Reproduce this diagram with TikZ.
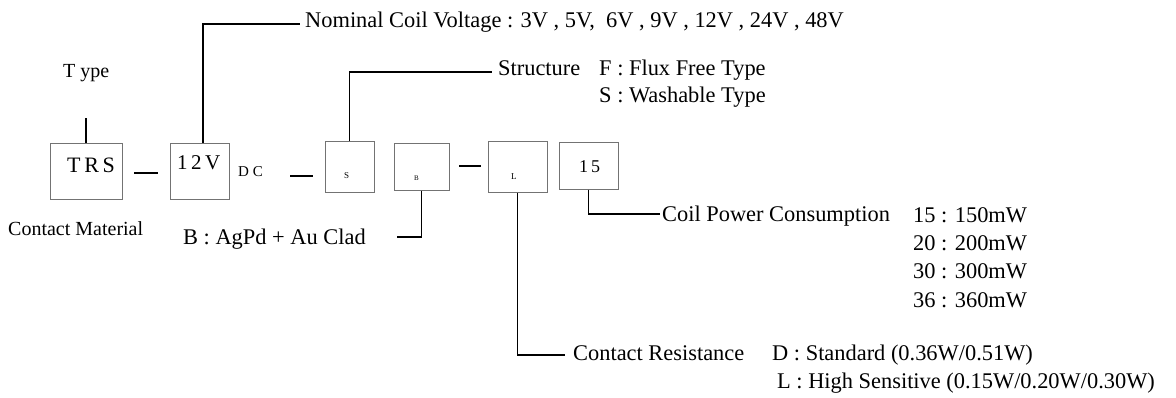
\documentclass[tikz,border=0pt]{standalone}
\usepackage{fontspec}
\setmainfont{Liberation Serif}
\begin{document}
\begin{tikzpicture}[x=1pt,y=-1pt,
  box/.style={draw=black!55,line width=1pt,inner sep=0pt},
  conn/.style={line width=1.2pt,black},
  txt/.style={anchor=base west,inner sep=0pt,font=\fontsize{22.4}{26}\selectfont},
  smalltxt/.style={anchor=base west,inner sep=0pt,font=\fontsize{20}{24}\selectfont}]
\useasboundingbox (0,0) rectangle (1176,397);

% boxes
\node[box,minimum width=72pt,minimum height=56pt] (trs) at (86,171) {};
\node[box,minimum width=59pt,minimum height=56pt] (v12) at (199.5,171) {};
\node[box,minimum width=49pt,minimum height=51pt] (sbox) at (349.5,166.5) {};
\node[box,minimum width=55pt,minimum height=47pt] (bbox) at (421.5,166.5) {};
\node[box,minimum width=59pt,minimum height=51pt] (lbox) at (517.5,166.5) {};
\node[box,minimum width=59pt,minimum height=47pt] (p15) at (588.5,165.5) {};

% box labels
\node[anchor=base west,inner sep=0pt,font=\fontsize{22}{26}\selectfont] (trst) at (67,172) {T\,R\,S};
\node[anchor=base west,inner sep=0pt,font=\fontsize{21}{25}\selectfont] (v12t) at (177,169) {1\,2\,V};
\node[anchor=base west,inner sep=0pt,font=\fontsize{15}{18}\selectfont] (dc) at (238,176) {D C};
\node[anchor=base west,inner sep=0pt,font=\fontsize{9}{11}\selectfont] (st) at (344,178) {S};
\node[anchor=base west,inner sep=0pt,font=\fontsize{7}{9}\selectfont] (bt) at (414,180) {B};
\node[anchor=base west,inner sep=0pt,font=\fontsize{9}{11}\selectfont] (lt) at (511,179) {L};
\node[anchor=base west,inner sep=0pt,font=\fontsize{18}{22}\selectfont] (p15t) at (579,172) {1\,5};

% dashes between boxes
\coordinate (d1a) at (134,173); \coordinate (d1b) at (158,173);
\coordinate (d2a) at (290,176); \coordinate (d2b) at (313,176);
\coordinate (d3a) at (459,166); \coordinate (d3b) at (481,166);
\draw[conn] (d1a) -- (d1b);
\draw[conn] (d2a) -- (d2b);
\draw[conn] (d3a) -- (d3b);

% texts
\node[smalltxt] (type) at (63,77) {T ype};
\node[txt] (nom) at (305,27) {Nominal Coil Voltage : 3V , 5V,~~6V , 9V , 12V , 24V , 48V};
\node[txt] (struct) at (498,75) {Structure};
\node[txt] (sf) at (599,75) {F : Flux Free Type};
\node[txt] (ss) at (599,102) {S : Washable Type};
\node[smalltxt] (cm) at (8,235) {Contact Material};
\node[txt] (bm) at (183,244) {B : AgPd + Au Clad};
\node[txt] (cpc) at (662,221) {Coil Power Consumption};
\node[txt] (r15) at (913,222) {15 : 150mW};
\node[txt] (r20) at (913,250) {20 : 200mW};
\node[txt] (r30) at (913,278) {30 : 300mW};
\node[txt] (r36) at (913,307) {36 : 360mW};
\node[txt] (cr) at (573,360) {Contact Resistance};
\node[txt] (crd) at (772,360) {D : Standard (0.36W/0.51W)};
\node[txt] (crl) at (777,388) {L : High Sensitive (0.15W/0.20W/0.30W)};

% connectors
\coordinate (typeend) at (86,118);
\draw[conn] (typeend) -- (trs.north);
\coordinate (nomend) at (300,24);
\draw[conn] ([xshift=3.5pt]v12.north) |- (nomend);
\coordinate (strend) at (492,72);
\draw[conn] (sbox.north) |- (strend);
\coordinate (bend) at (397,237);
\draw[conn] (bbox.south) |- (bend);
\coordinate (lend) at (565,355);
\draw[conn] (lbox.south) |- (lend);
\coordinate (pend) at (660,214);
\draw[conn] (p15.south) |- (pend);
\end{tikzpicture}
\end{document}
